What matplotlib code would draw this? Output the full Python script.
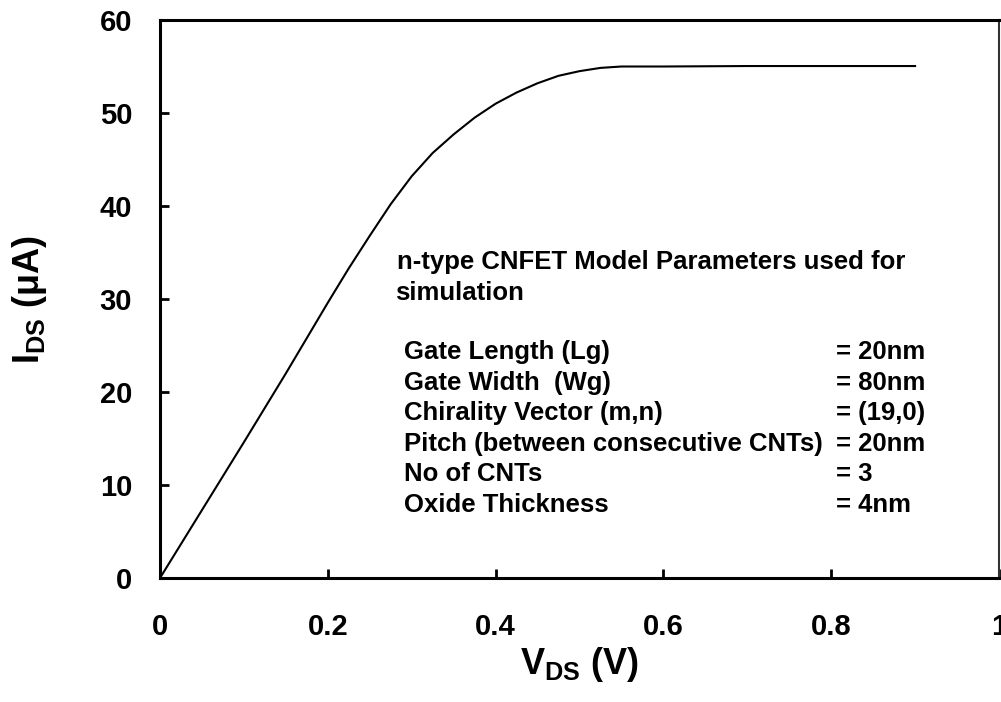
import numpy as np
import matplotlib
matplotlib.use("Agg")
import matplotlib.pyplot as plt

# I-V curve of the n-type CNFET
vds = [0.0, 0.05, 0.1, 0.15, 0.2, 0.225, 0.25, 0.275, 0.3, 0.325, 0.35,
       0.375, 0.4, 0.425, 0.45, 0.475, 0.5, 0.525, 0.55, 0.6, 0.7, 0.8, 0.9]
ids = [0.0, 7.3, 14.6, 22.0, 29.6, 33.3, 36.8, 40.2, 43.2, 45.7, 47.7,
       49.5, 51.0, 52.2, 53.2, 54.0, 54.5, 54.85, 55.0, 55.0, 55.05, 55.05, 55.05]

xticks = [0, 0.2, 0.4, 0.6, 0.8, 1]
xticklabels = ["0", "0.2", "0.4", "0.6", "0.8", "1"]
yticks = [0, 10, 20, 30, 40, 50, 60]

param_names = ["Gate Length (Lg)", "Gate Width  (Wg)", "Chirality Vector (m,n)",
               "Pitch (between consecutive CNTs)", "No of CNTs", "Oxide Thickness"]
param_values = ["= 20nm", "= 80nm", "= (19,0)", "= 20nm", "= 3", "= 4nm"]

plt.rcParams['font.family'] = ['Liberation Sans', 'DejaVu Sans']
plt.rcParams['font.weight'] = 'bold'
plt.rcParams['mathtext.fontset'] = 'custom'
plt.rcParams['mathtext.rm'] = 'Liberation Sans'
plt.rcParams['mathtext.bf'] = 'Liberation Sans:bold'

fig = plt.figure(figsize=(10.01, 7.02), dpi=100)
ax = fig.add_axes([160 / 1001, 1 - 578 / 702, 839 / 1001, 558 / 702])

ax.plot(vds, ids, color='black', lw=1.5)

ax.set_xlim(0, 1)
ax.set_ylim(0, 60)
ax.set_xticks(xticks)
ax.set_xticklabels(xticklabels)
ax.set_yticks(yticks)
ax.tick_params(direction='in', length=6.5, width=2, labelsize=21, pad=20)
ax.tick_params(axis='x', pad=25)
for lab in ax.get_xticklabels() + ax.get_yticklabels():
    lab.set_fontweight('bold')

for s in ['left', 'bottom', 'top']:
    ax.spines[s].set_linewidth(2.2)
ax.spines['right'].set_linewidth(1.5)
ax.spines['right'].set_color('#333333')

ax.set_xlabel(r'$\mathbf{V}_{\mathrm{DS}}$ (V)', fontsize=26, fontweight='bold')
ax.set_ylabel(r'$\mathbf{I}_{\mathrm{DS}}$ (μA)', fontsize=26, fontweight='bold')
ax.xaxis.set_label_coords(0.5, (578 - 645) / 558)
ax.yaxis.set_label_coords((49 - 160) / 839, 0.5)

# parameter table inside the plot
def fx(px):
    return px / 1001

def fy(py):
    return 1 - py / 702

fs = 18.5
fig.text(fx(397), fy(262), "n-type CNFET Model Parameters used for", fontsize=fs,
         fontweight='bold', va='center')
fig.text(fx(395), fy(293), "simulation", fontsize=fs, fontweight='bold', va='center')
for i, (n, v) in enumerate(zip(param_names, param_values)):
    y = 352 + i * 30.6
    fig.text(fx(404), fy(y), n, fontsize=fs, fontweight='bold', va='center')
    fig.text(fx(836), fy(y), v, fontsize=fs, fontweight='bold', va='center')

fig.savefig("out.png", dpi=100)
